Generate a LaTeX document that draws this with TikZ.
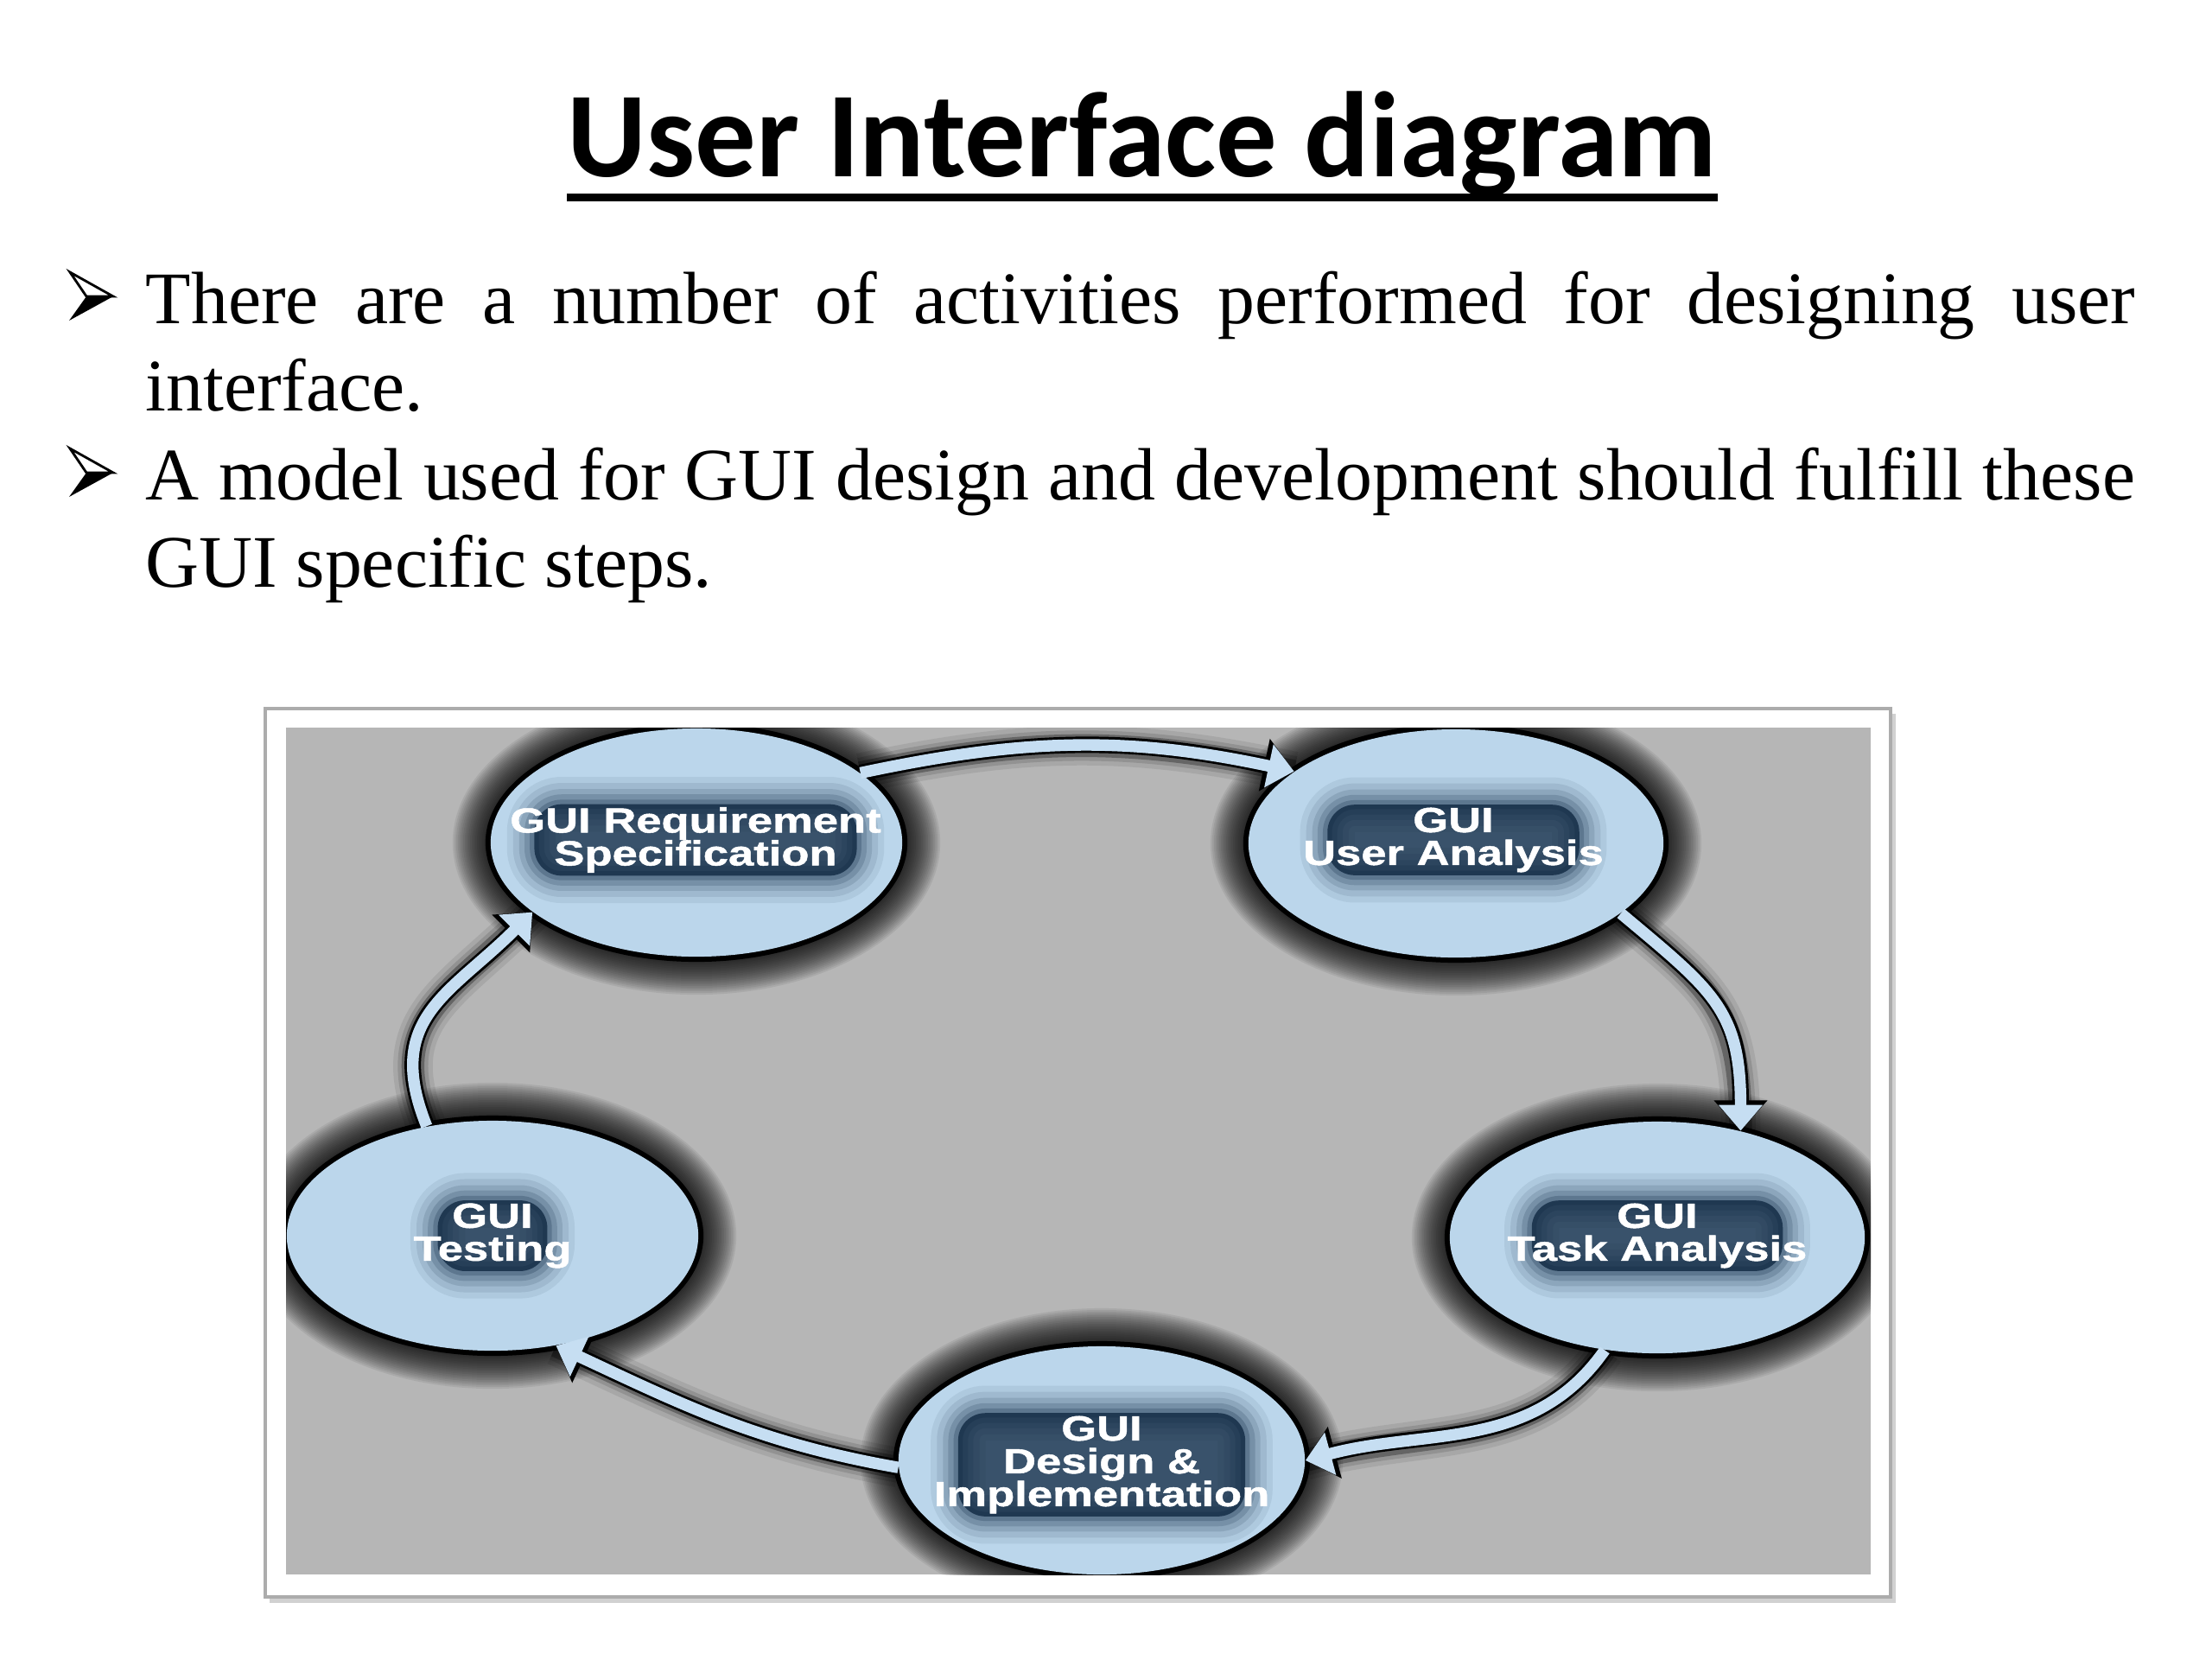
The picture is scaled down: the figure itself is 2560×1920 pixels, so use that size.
\documentclass[tikz,border=0pt]{standalone}
\usepackage{fontspec}
\setmainfont{Liberation Serif}
\newfontfamily\titlefont{Carlito}
\newfontfamily\lblfont[FakeStretch=1.3,FakeBold=1.2]{Liberation Sans}
\usetikzlibrary{shapes.geometric,arrows.meta}
\definecolor{circblue}{RGB}{187,214,235}
\definecolor{arrblue}{RGB}{198,222,242}
\definecolor{navy}{RGB}{8,32,58}
\definecolor{graybg}{RGB}{182,182,182}
\tikzset{
  circnode/.style={ellipse, inner sep=0pt},
  bodytext/.style={anchor=base west, inner sep=0pt, font=\fontsize{24.4}{28.9}\selectfont},
  lbl/.style={font=\lblfont\bfseries\fontsize{11.5}{10.8}\selectfont, text=white, align=center,
    rounded corners=9pt, inner xsep=-8pt, inner ysep=1pt,
    preaction={draw=navy, draw opacity=0.07, line width=18pt},
    preaction={draw=navy, draw opacity=0.09, line width=14pt},
    preaction={draw=navy, draw opacity=0.12, line width=10pt},
    preaction={draw=navy, draw opacity=0.16, line width=6.5pt},
    preaction={draw=navy, draw opacity=0.22, line width=3pt},
    preaction={fill=navy, fill opacity=0.72}},
  arrowtipblue/.style={-{Triangle[length=8.5pt,width=14pt]}},
  arrowtipblack/.style={-{Triangle[length=10pt,width=17pt]}}
}
\newcommand\cyclearrows[1]{%
  \draw[#1] (c1.23) to[out=12,in=168] (c2.156);
  \draw[#1] (c2.-23) to[out=-40,in=90,looseness=1.25] (c3.52);
  \draw[#1] (c3.-115) to[out=-125,in=15] (c4.0);
  \draw[#1] (c4.182) to[out=170,in=-25] (c5.-60);
  \draw[#1] (c5.121) to[out=112,in=-135,looseness=1.25] (c1.203);
}
\begin{document}
\begin{tikzpicture}[x=0.01cm,y=-0.01cm]
\useasboundingbox (0,0) rectangle (2560,1920);
\fill[white] (0,0) rectangle (2560,1920);

% title
\node[anchor=base, inner sep=0pt, font=\titlefont\bfseries\fontsize{40}{48}\selectfont] (title) at (1322,204) {User Interface diagram};
\draw[line width=2.5pt] ([yshift=-7pt]title.base west) -- ([yshift=-7pt]title.base east);

% bullets
\foreach \dy in {0,204}{
  \fill[black] (100,343+\dy) -- (131,343+\dy) -- (80,371+\dy) -- cycle;
  \draw[black, line width=0.8pt, fill=white, line join=miter] (81,315+\dy) -- (131,343+\dy) -- (100,343+\dy) -- cycle;
}
\node[bodytext] (b1) at (168,374) {\parbox[t]{654.7pt}{\tolerance=10000\hbadness=10000 There are a number of activities performed for designing user\linebreak interface.}};
\node[bodytext] (b2) at (168,578) {\parbox[t]{654.7pt}{\tolerance=10000\hbadness=10000 A model used for GUI design and development should fulfill these\linebreak GUI specific steps.}};

% frame
\fill[black, opacity=0.18] (312,826) rectangle (2194,1855);
\filldraw[fill=white, draw=gray!65, line width=1.2pt] (307,820) rectangle (2188,1848);
\fill[graybg] (331,842) rectangle (2165,1822);

\begin{scope}
\clip (331,842) rectangle (2165,1822);
% circle nodes (shapes only)
\node[circnode, minimum width=4.76cm, minimum height=2.64cm] (c1) at (806,975) {};
\node[circnode, minimum width=4.80cm, minimum height=2.64cm] (c2) at (1685,976) {};
\node[circnode, minimum width=4.80cm, minimum height=2.68cm] (c3) at (1918,1432) {};
\node[circnode, minimum width=4.70cm, minimum height=2.64cm] (c4) at (1275,1690) {};
\node[circnode, minimum width=4.76cm, minimum height=2.66cm] (c5) at (570,1430) {};

% halos
\foreach \n/\a/\b in {c1/2.38/1.32, c2/2.40/1.32, c3/2.40/1.34, c4/2.35/1.32, c5/2.38/1.33}{
  \foreach \k in {1,...,22}{
    \fill[black,opacity=0.065] (\n.center) ellipse [x radius={(\a+0.02*\k)*1cm}, y radius={(\b+0.02*\k)*1cm}];
  }
  \fill[black] (\n.center) ellipse [x radius={(\a+0.06)*1cm}, y radius={(\b+0.06)*1cm}];
}
% arrow shadows
\cyclearrows{black, line width=13pt, opacity=0.08}
\cyclearrows{black, line width=10pt, opacity=0.12}
\cyclearrows{black, line width=7.5pt, opacity=0.3}
\cyclearrows{black, line width=5.4pt, arrowtipblack}
% circle fills
\foreach \n/\a/\b in {c1/2.38/1.32, c2/2.40/1.32, c3/2.40/1.34, c4/2.35/1.32, c5/2.38/1.33}{
  \fill[circblue] (\n.center) ellipse [x radius={\a*1cm}, y radius={\b*1cm}];
}
% arrows
\cyclearrows{arrblue, line width=3.8pt, arrowtipblue}

% labels
\node[lbl] (l1) at (805,972) {GUI Requirement\\Specification};
\node[lbl] (l2) at (1682,972) {GUI\\User Analysis};
\node[lbl] (l3) at (1918,1430) {GUI\\Task Analysis};
\node[lbl] (l4) at (1275,1695) {GUI\\Design \&\\Implementation};
\node[lbl] (l5) at (570,1430) {GUI\\Testing};
\end{scope}
\end{tikzpicture}
\end{document}
